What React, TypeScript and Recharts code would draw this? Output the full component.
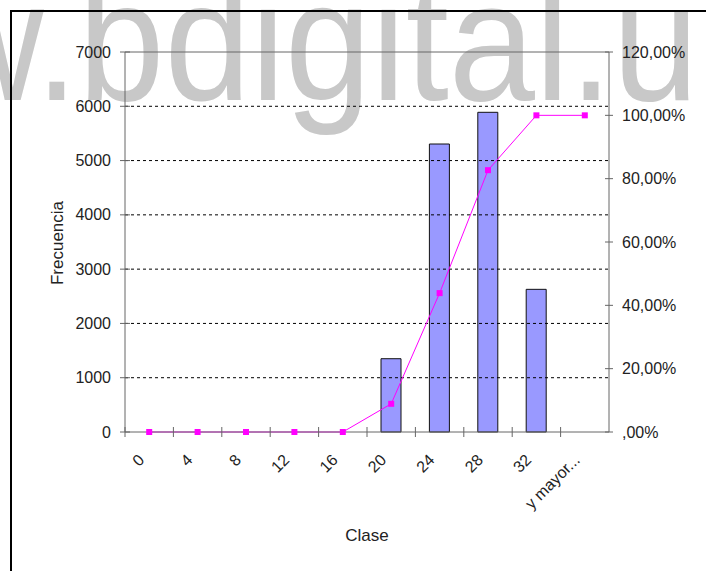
import React from 'react';
import { ComposedChart, Bar, Line, XAxis, YAxis, ReferenceLine } from 'recharts';

const categories = ['0', '4', '8', '12', '16', '20', '24', '28', '32', 'y mayor...'];
const frequencies = [0, 0, 0, 0, 0, 1350, 5305, 5889, 2628, 0];
const cumulativePct = [0, 0, 0, 0, 0, 0.089, 0.4386, 0.8268, 1, 1];
const leftTicks = [0, 1000, 2000, 3000, 4000, 5000, 6000, 7000];
const gridValues = [1000, 2000, 3000, 4000, 5000, 6000];
const rightTicks = [0, 0.2, 0.4, 0.6, 0.8, 1.0, 1.2];

const data = categories.map((c, i) => ({
  clase: c,
  frecuencia: frequencies[i],
  acumulado: cumulativePct[i],
}));

const FONT = "'Liberation Sans', Arial, sans-serif";
const AXIS = '#666666';
const TEXT = '#222222';
const TICK_FS = 16;

const fmtPct = (v: number) => {
  const s = (v * 100).toFixed(2).replace('.', ',');
  return (s.startsWith('0,') ? s.slice(1) : s) + '%';
};

const XTick = (props: any) => {
  const { x, y, payload } = props;
  const half = payload && typeof payload.offset === 'number' && payload.offset > 0 ? payload.offset : 24.2;
  const tx = x - 4;
  const ty = y + 29;
  return (
    <g>
      <line x1={x - half} x2={x - half} y1={y - 5} y2={y + 5} stroke={AXIS} />
      <text
        x={tx}
        y={ty}
        transform={`rotate(-45 ${tx} ${ty})`}
        textAnchor="end"
        fontSize={TICK_FS}
        fill={TEXT}
        fontFamily={FONT}
      >
        {payload.value}
      </text>
    </g>
  );
};

const LeftTick = (props: any) => {
  const { x, y, payload } = props;
  return (
    <g>
      <line x1={x - 5} x2={x + 5} y1={y} y2={y} stroke={AXIS} />
      <text x={x - 14} y={y} dy="0.35em" textAnchor="end" fontSize={TICK_FS} fill={TEXT} fontFamily={FONT}>
        {payload.value}
      </text>
    </g>
  );
};

const RightTick = (props: any) => {
  const { x, y, payload } = props;
  return (
    <g>
      <line x1={x - 4} x2={x + 4} y1={y} y2={y} stroke={AXIS} />
      <text x={x + 13} y={y} dy="0.35em" textAnchor="start" fontSize={TICK_FS} fill={TEXT} fontFamily={FONT}>
        {fmtPct(payload.value)}
      </text>
    </g>
  );
};

const SquareDot = (p: any) => (
  <rect key={`d-${p.index}`} x={p.cx - 3} y={p.cy - 3} width={6} height={6} fill="#FF00FF" />
);

export default function App() {
  return (
    <div style={{ position: 'absolute', left: 0, top: 0, width: 706, height: 571, overflow: 'hidden', background: '#fff' }}>
      <svg width={706} height={571} style={{ position: 'absolute', left: 0, top: 0 }}>
        <text
          transform="translate(-292,100) scale(1,1.1)"
          fill="#c8c8c8"
          fontFamily={FONT}
          fontSize={155}
        >
          www.bdigital.ula.ve
        </text>
        <text x={57} y={243} transform="rotate(-90 57 243)" textAnchor="middle" dy="0.35em" fontSize={17} fill={TEXT} fontFamily={FONT}>
          Frecuencia
        </text>
        <text x={367} y={535} textAnchor="middle" dy="0.35em" fontSize={17} fill={TEXT} fontFamily={FONT}>
          Clase
        </text>
      </svg>
      <div style={{ position: 'absolute', left: 10, top: 10, width: 900, height: 900, borderLeft: '2px solid #000', borderTop: '2px solid #000' }} />
      <div style={{ position: 'absolute', left: 0, top: 0 }}>
        <ComposedChart
          width={706}
          height={571}
          data={data}
          margin={{ top: 52, right: 7, bottom: 39, left: 65 }}
        >
          <XAxis
            dataKey="clase"
            height={100}
            stroke={AXIS}
            tickLine={false}
            tickSize={0}
            tickMargin={0}
            interval={0}
            tick={<XTick />}
          />
          <YAxis
            yAxisId="left"
            width={60}
            domain={[0, 7000]}
            ticks={leftTicks}
            stroke={AXIS}
            tickLine={false}
            tickSize={0}
            tickMargin={0}
            interval={0}
            tick={<LeftTick />}
          />
          <YAxis
            yAxisId="right"
            orientation="right"
            width={90}
            domain={[0, 1.2]}
            ticks={rightTicks}
            stroke={AXIS}
            tickLine={false}
            tickSize={0}
            tickMargin={0}
            interval={0}
            tick={<RightTick />}
          />
          {gridValues.map((v) => (
            <ReferenceLine key={v} yAxisId="left" y={v} stroke="#000" strokeDasharray="3 3" />
          ))}
          <ReferenceLine yAxisId="left" y={7000} stroke={AXIS} />
          <Bar
            yAxisId="left"
            dataKey="frecuencia"
            barSize={20}
            fill="#9999FF"
            stroke="#111"
            strokeWidth={1}
            isAnimationActive={false}
          />
          <Line
            yAxisId="right"
            dataKey="acumulado"
            type="linear"
            stroke="#FF00FF"
            strokeWidth={1}
            dot={SquareDot}
            activeDot={false}
            isAnimationActive={false}
          />
        </ComposedChart>
      </div>
    </div>
  );
}
